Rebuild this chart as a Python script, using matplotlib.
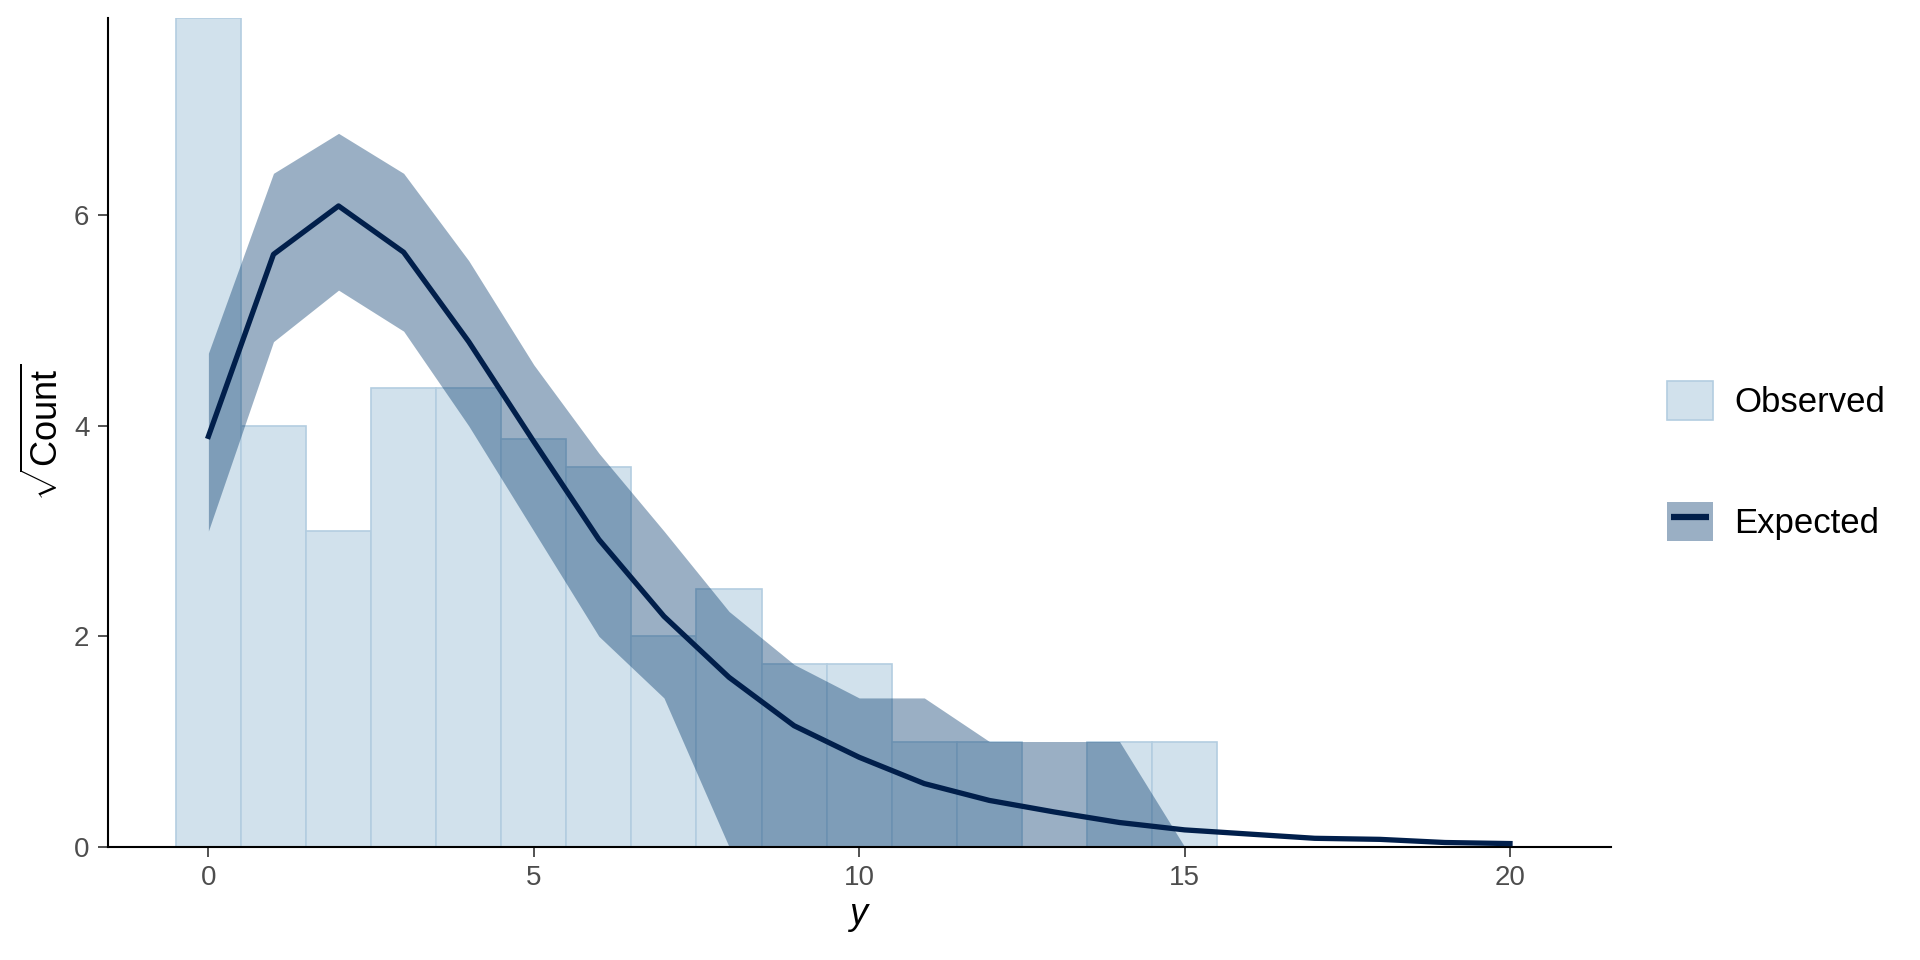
import numpy as np
import matplotlib
matplotlib.use("Agg")
import matplotlib.pyplot as plt
from matplotlib.patches import Patch
from matplotlib.lines import Line2D

plt.rcParams["font.family"] = ["Liberation Sans", "DejaVu Sans"]
plt.rcParams["mathtext.fontset"] = "custom"
plt.rcParams["mathtext.rm"] = "Liberation Sans"
plt.rcParams["mathtext.it"] = "Liberation Sans:italic"

# observed counts per y value (bars drawn on sqrt scale)
obs_x = list(range(16))
obs_counts = [62, 16, 9, 19, 19, 15, 13, 4, 6, 3, 3, 1, 1, 0, 1, 1]

# expected (sqrt count) with interval
exp_x = list(range(21))
exp_mid = [3.90, 5.63, 6.09, 5.65, 4.80, 3.85, 2.92, 2.19, 1.61, 1.15, 0.85,
           0.60, 0.44, 0.33, 0.23, 0.16, 0.12, 0.08, 0.07, 0.04, 0.03]
exp_lo = [3.00, 4.80, 5.29, 4.90, 4.00, 3.00, 2.00, 1.414, 0, 0, 0,
          0, 0, 0, 0, 0, 0, 0, 0, 0, 0]
exp_hi = [4.69, 6.40, 6.78, 6.40, 5.57, 4.58, 3.74, 3.00, 2.236, 1.732, 1.414,
          1.414, 1.0, 1.0, 1.0, 0, 0, 0, 0, 0, 0]

light = "#d1e1ec"
light_hl = "#b3cde0"
dark = "#03396c"
dark_hl = "#011f4b"

fig = plt.figure(figsize=(19.2, 9.6), dpi=100)
ax = fig.add_axes([0.056, 0.118, 0.783, 0.863])

ax.bar(obs_x, np.sqrt(obs_counts), width=1, color=light, edgecolor=light_hl,
       linewidth=1.2, zorder=1)
ax.fill_between(exp_x, exp_lo, exp_hi, color=dark, alpha=0.4, linewidth=0, zorder=2)
ax.plot(exp_x, exp_mid, color=dark_hl, linewidth=3.8, zorder=3)

ax.set_xlim(-1.55, 21.55)
ax.set_ylim(0, np.sqrt(62))
ax.set_xticks([0, 5, 10, 15, 20])
ax.set_yticks([0, 2, 4, 6])
for s in ["top", "right"]:
    ax.spines[s].set_visible(False)
for s in ["left", "bottom"]:
    ax.spines[s].set_linewidth(1.5)
    ax.spines[s].set_color("black")
ax.tick_params(axis="both", labelsize=20, labelcolor="#4d4d4d", color="#333333",
               length=7, width=1.2, pad=6)
ax.set_xlabel("$y$", fontsize=26, labelpad=6)
ax.set_ylabel(r"$\sqrt{\mathrm{Count}}$", fontsize=26, labelpad=6)

# short line inset inside the ribbon key, like ggplot's combined key
handles = [Patch(facecolor=light, edgecolor=light_hl, linewidth=1.2),
           (Patch(facecolor=dark, alpha=0.4, linewidth=0),
            Line2D([], [], color=dark_hl, linestyle="none", marker="_",
                   markersize=27, markeredgewidth=4.5))]
fig.legend(handles, ["Observed", "Expected"], loc="center left",
           bbox_to_anchor=(0.868, 0.52), bbox_transform=fig.transFigure,
           frameon=False, fontsize=25, handlelength=1.35, handleheight=1.35,
           handletextpad=0.6, labelspacing=2.35, borderpad=0, borderaxespad=0)

fig.savefig("out.png", dpi=100)
